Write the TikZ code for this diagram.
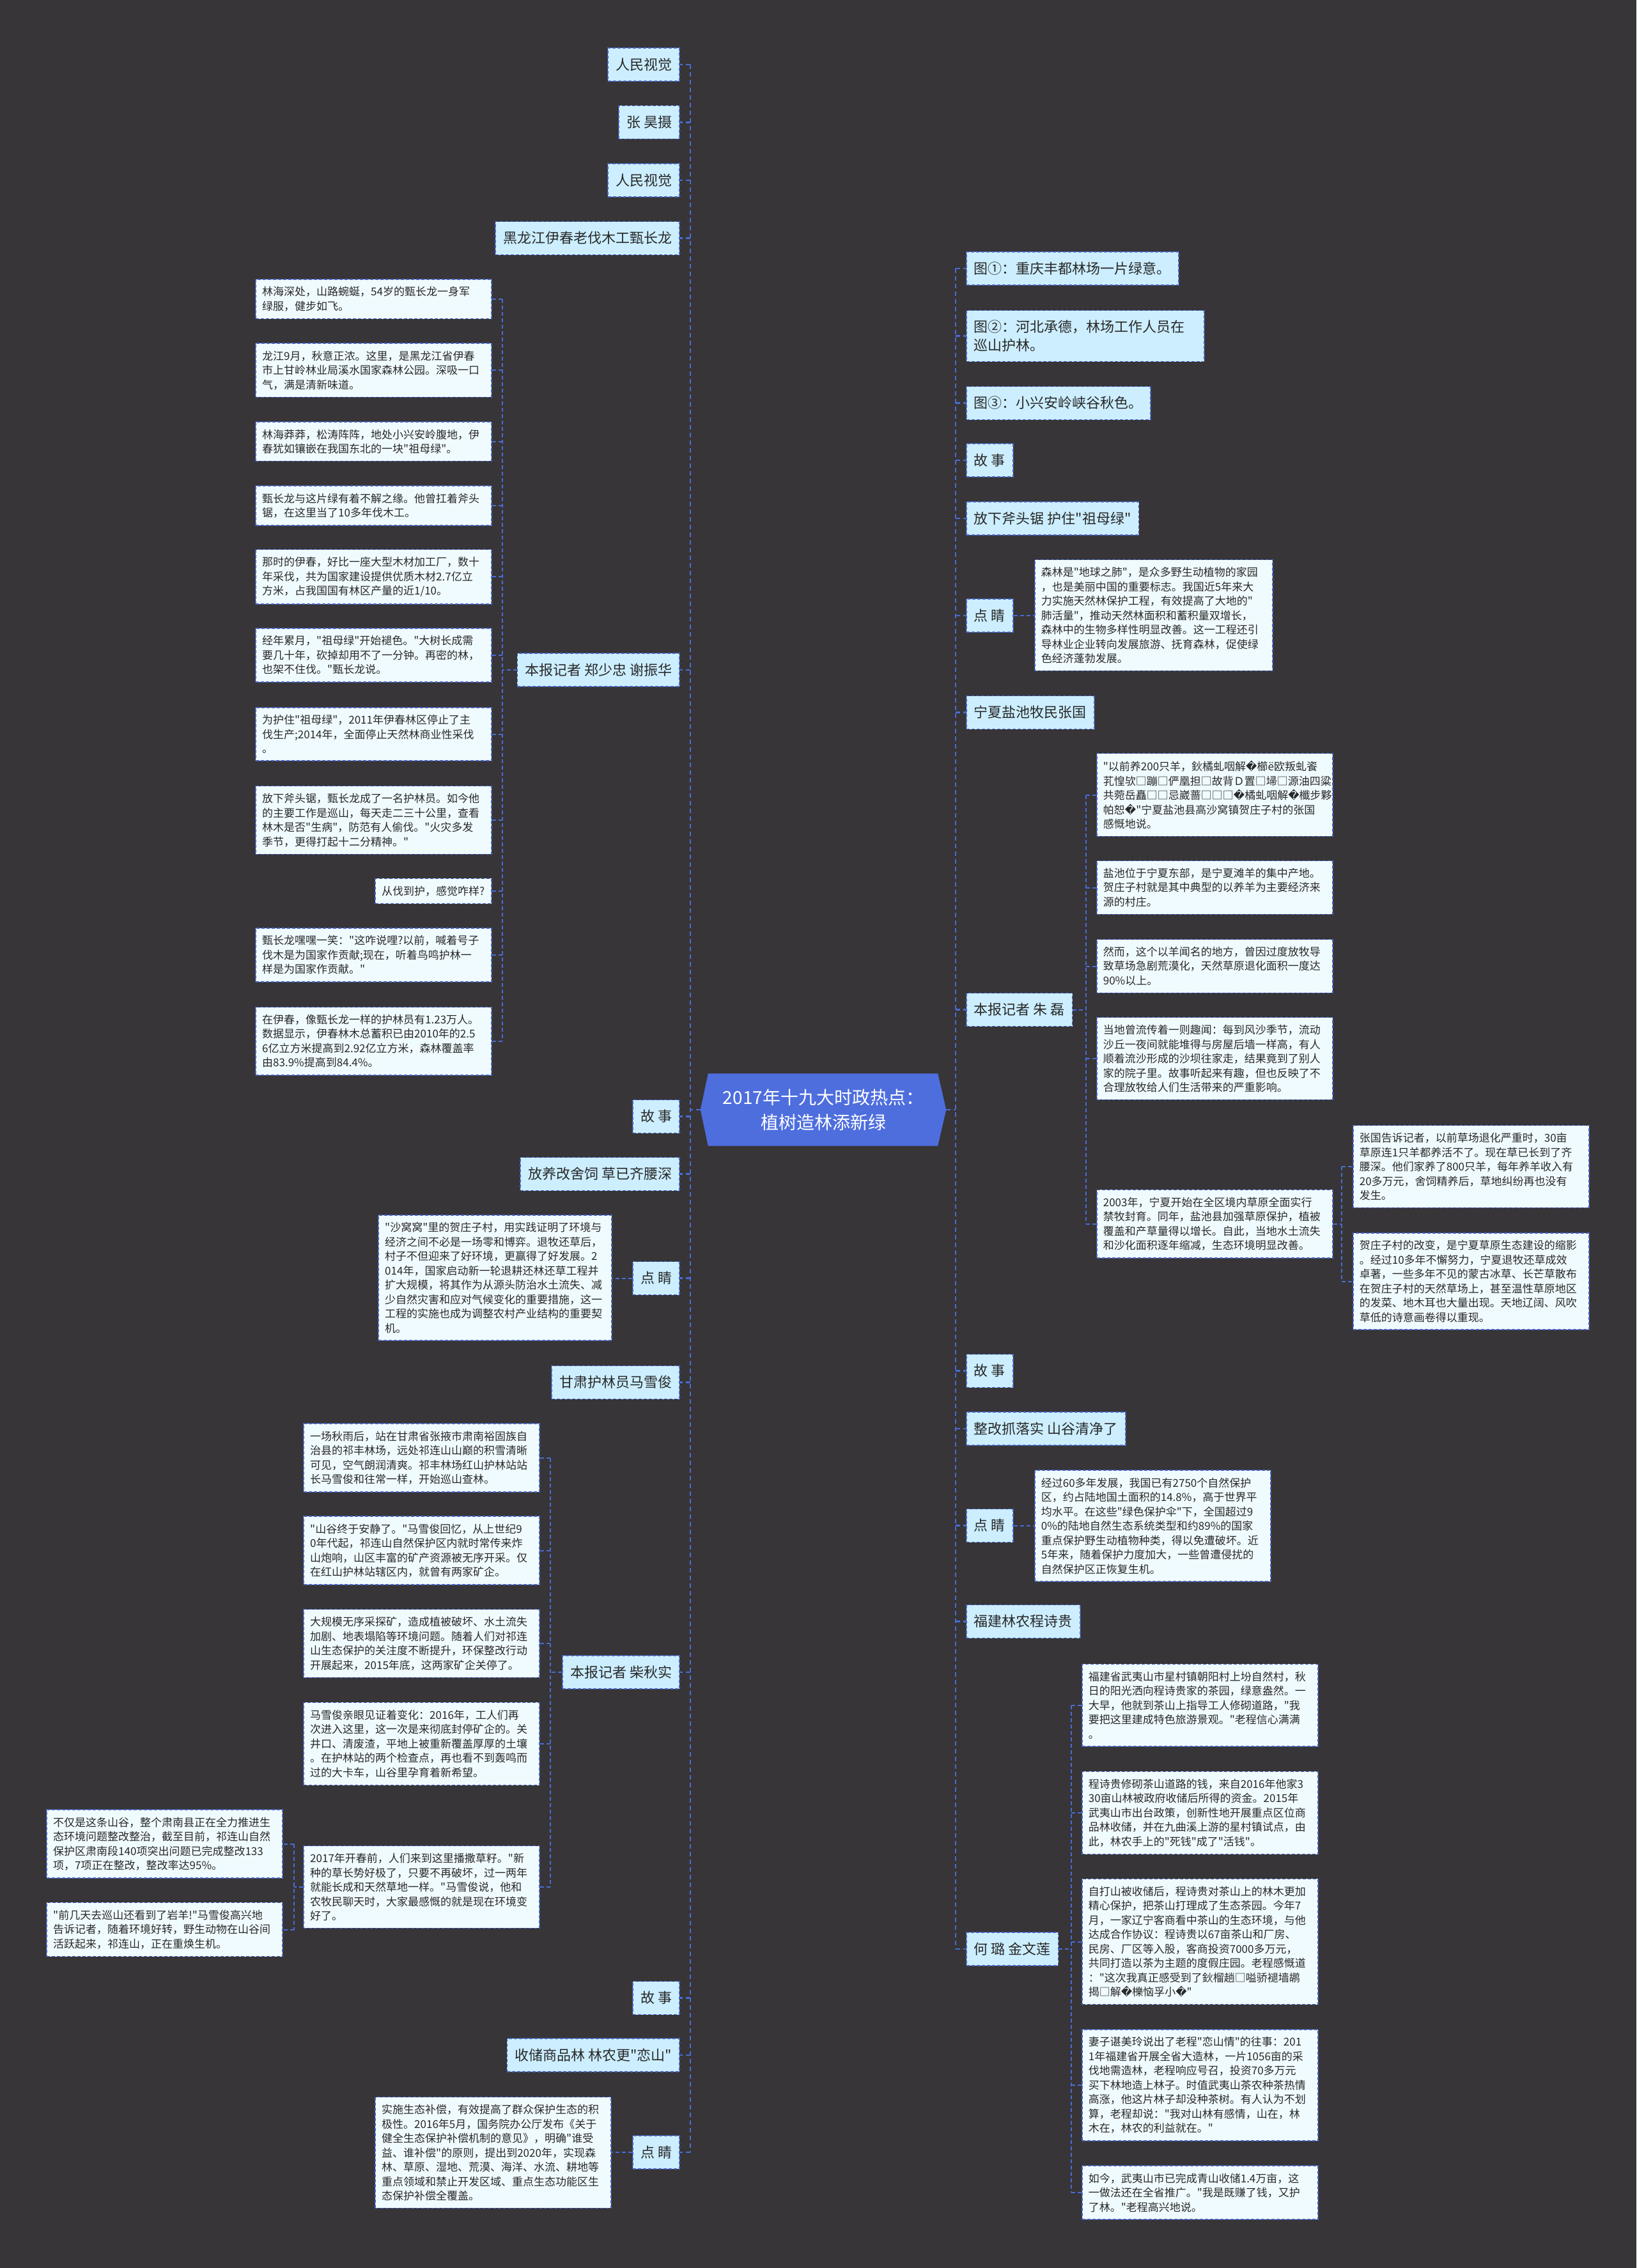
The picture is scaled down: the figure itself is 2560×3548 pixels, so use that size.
\documentclass[tikz,border=0pt]{standalone}
\usepackage{fontspec}
\setmainfont{Noto Sans CJK SC}[Ligatures=TeXOff]
\newfontfamily\dvsfont{DejaVu Sans}
\newcommand{\rpc}{{\dvsfont\symbol{"FFFD}}}
\usetikzlibrary{calc}
\pgfdeclarelayer{bgzero}
\pgfdeclarelayer{bgone}
\pgfsetlayers{bgzero,bgone,main}
\definecolor{bgc}{RGB}{55,53,55}
\definecolor{linec}{RGB}{72,108,214}
\definecolor{bordc}{RGB}{70,100,200}
\definecolor{mainfill}{RGB}{204,238,255}
\definecolor{leaffill}{RGB}{240,251,255}
\definecolor{txt}{RGB}{40,40,40}
\definecolor{rootc}{RGB}{78,110,222}
\newcommand{\mkL}[3]{\node[mainbox, anchor=east] (#1) at (1064,#2) {#3};}
\newcommand{\mkR}[3]{\node[mainbox, anchor=west] (#1) at (1511,#2) {#3};}
\newcommand{\leafE}[4]{\node[leafbox, anchor=east] (#1) at (#2,#3) {#4};}
\newcommand{\leafW}[4]{\node[leafbox, anchor=west] (#1) at (#2,#3) {#4};}
\begin{document}
\begin{tikzpicture}[x=1pt,y=-1pt,
  mainbox/.style={draw=bordc, dash pattern=on 5pt off 3pt, line width=1.6pt, fill=mainfill, text=txt,
    font=\fontsize{22}{29.5}\selectfont, inner xsep=12pt, inner ysep=0pt, minimum height=52pt, align=left},
  leafbox/.style={draw=bordc, dash pattern=on 5pt off 3pt, line width=1.6pt, fill=leaffill, text=txt,
    font=\fontsize{17}{22.5}\selectfont, inner xsep=10pt, inner ysep=11.5pt, text width=349pt, align=left},
  spine/.style={draw=linec, line width=2.6pt, dash pattern=on 7pt off 5pt},
  twig/.style={draw=linec, line width=2pt, dash pattern=on 6pt off 4pt}]
\begin{pgfonlayer}{bgzero}
\fill[bgc] (0,0) rectangle (2560,3548);
\end{pgfonlayer}

% root
\node[minimum width=384pt, minimum height=113pt, inner sep=0pt, text=white,
  font=\fontsize{28}{39}\selectfont, align=center] (root) at (1288,1736) {2017年十九大时政热点：\\植树造林添新绿};

% left main nodes
\mkL{L1}{101}{人民视觉}
\mkL{L2}{191.5}{张 昊摄}
\mkL{L3}{282}{人民视觉}
\mkL{L4}{372.6}{黑龙江伊春老伐木工甄长龙}
\mkL{L5}{1048}{本报记者 郑少忠 谢振华}
\mkL{L6}{1746.5}{故 事}
\mkL{L7}{1836.5}{放养改舍饲 草已齐腰深}
\mkL{L8}{1999.5}{点 睛}
\mkL{L9}{2162.5}{甘肃护林员马雪俊}
\mkL{L10}{2616}{本报记者 柴秋实}
\mkL{L11}{3125.5}{故 事}
\mkL{L12}{3215}{收储商品林 林农更"恋山"}
\mkL{L13}{3367}{点 睛}

% right main nodes
\mkR{R1}{420}{图①：重庆丰都林场一片绿意。}
\node[mainbox, anchor=west, text width=348pt, inner ysep=15pt] (R2) at (1511,525.6) {图②：河北承德，林场工作人员在\\巡山护林。};
\mkR{R3}{630.5}{图③：小兴安岭峡谷秋色。}
\mkR{R4}{720}{故 事}
\mkR{R5}{811}{放下斧头锯 护住"祖母绿"}
\mkR{R6}{963}{点 睛}
\mkR{R7}{1114.5}{宁夏盐池牧民张国}
\mkR{R8}{1579.5}{本报记者 朱 磊}
\mkR{R9}{2144.5}{故 事}
\mkR{R10}{2235}{整改抓落实 山谷清净了}
\mkR{R11}{2386.5}{点 睛}
\mkR{R12}{2536.5}{福建林农程诗贵}
\mkR{R13}{3049}{何 璐 金文莲}

% leaves of L5
\leafE{a1}{770}{467.8}{林海深处，山路蜿蜒，54岁的甄长龙一身军\\绿服，健步如飞。}
\leafE{a2}{770}{579.2}{龙江9月，秋意正浓。这里，是黑龙江省伊春\\市上甘岭林业局溪水国家森林公园。深吸一口\\气，满是清新味道。}
\leafE{a3}{770}{690.8}{林海莽莽，松涛阵阵，地处小兴安岭腹地，伊\\春犹如镶嵌在我国东北的一块"祖母绿"。}
\leafE{a4}{770}{791.1}{甄长龙与这片绿有着不解之缘。他曾扛着斧头\\锯，在这里当了10多年伐木工。}
\leafE{a5}{770}{902.4}{那时的伊春，好比一座大型木材加工厂，数十\\年采伐，共为国家建设提供优质木材2.7亿立\\方米，占我国国有林区产量的近1/10。}
\leafE{a6}{770}{1025}{经年累月，"祖母绿"开始褪色。"大树长成需\\要几十年，砍掉却用不了一分钟。再密的林，\\也架不住伐。"甄长龙说。}
\leafE{a7}{770}{1148.5}{为护住"祖母绿"，2011年伊春林区停止了主\\伐生产;2014年，全面停止天然林商业性采伐\\。}
\leafE{a8}{770}{1283}{放下斧头锯，甄长龙成了一名护林员。如今他\\的主要工作是巡山，每天走二三十公里，查看\\林木是否"生病"，防范有人偷伐。"火灾多发\\季节，更得打起十二分精神。"}
\node[leafbox, anchor=east, text width=162pt] (a9) at (770,1394) {从伐到护，感觉咋样?};
\leafE{a10}{770}{1494}{甄长龙嘿嘿一笑："这咋说哩?以前，喊着号子\\伐木是为国家作贡献;现在，听着鸟鸣护林一\\样是为国家作贡献。"}
\leafE{a11}{770}{1628.7}{在伊春，像甄长龙一样的护林员有1.23万人。\\数据显示，伊春林木总蓄积已由2010年的2.5\\6亿立方米提高到2.92亿立方米，森林覆盖率\\由83.9\%提高到84.4\%。}

% leaf of L8
\node[leafbox, anchor=east, text width=345pt] (b1) at (958,1999) {"沙窝窝"里的贺庄子村，用实践证明了环境与\\经济之间不必是一场零和博弈。退牧还草后，\\村子不但迎来了好环境，更赢得了好发展。2\\014年，国家启动新一轮退耕还林还草工程并\\扩大规模，将其作为从源头防治水土流失、减\\少自然灾害和应对气候变化的重要措施，这一\\工程的实施也成为调整农村产业结构的重要契\\机。};

% leaves of L10
\leafE{g1}{845}{2280.5}{一场秋雨后，站在甘肃省张掖市肃南裕固族自\\治县的祁丰林场，远处祁连山山巅的积雪清晰\\可见，空气朗润清爽。祁丰林场红山护林站站\\长马雪俊和往常一样，开始巡山查林。}
\leafE{g2}{845}{2425.5}{"山谷终于安静了。"马雪俊回忆，从上世纪9\\0年代起，祁连山自然保护区内就时常传来炸\\山炮响，山区丰富的矿产资源被无序开采。仅\\在红山护林站辖区内，就曾有两家矿企。}
\leafE{g3}{845}{2571}{大规模无序采探矿，造成植被破坏、水土流失\\加剧、地表塌陷等环境问题。随着人们对祁连\\山生态保护的关注度不断提升，环保整改行动\\开展起来，2015年底，这两家矿企关停了。}
\leafE{g4}{845}{2728}{马雪俊亲眼见证着变化：2016年，工人们再\\次进入这里，这一次是来彻底封停矿企的。关\\井口、清废渣，平地上被重新覆盖厚厚的土壤\\。在护林站的两个检查点，再也看不到轰鸣而\\过的大卡车，山谷里孕育着新希望。}
\leafE{g5}{845}{2952}{2017年开春前，人们来到这里播撒草籽。"新\\种的草长势好极了，只要不再破坏，过一两年\\就能长成和天然草地一样。"马雪俊说，他和\\农牧民聊天时，大家最感慨的就是现在环境变\\好了。}
\leafE{g6}{443}{2884.5}{不仅是这条山谷，整个肃南县正在全力推进生\\态环境问题整改整治，截至目前，祁连山自然\\保护区肃南段140项突出问题已完成整改133\\项，7项正在整改，整改率达95\%。}
\leafE{g7}{443}{3018.5}{"前几天去巡山还看到了岩羊!"马雪俊高兴地\\告诉记者，随着环境好转，野生动物在山谷间\\活跃起来，祁连山，正在重焕生机。}

% leaf of L13
\leafE{b2}{957}{3367.5}{实施生态补偿，有效提高了群众保护生态的积\\极性。2016年5月，国务院办公厅发布《关于\\健全生态保护补偿机制的意见》，明确"谁受\\益、谁补偿"的原则，提出到2020年，实现森\\林、草原、湿地、荒漠、海洋、水流、耕地等\\重点领域和禁止开发区域、重点生态功能区生\\态保护补偿全覆盖。}

% leaf of R6
\node[leafbox, anchor=west, text width=352pt] (c1) at (1618,962.5) {森林是"地球之肺"，是众多野生动植物的家园\\，也是美丽中国的重要标志。我国近5年来大\\力实施天然林保护工程，有效提高了大地的"\\肺活量"，推动天然林面积和蓄积量双增长，\\森林中的生物多样性明显改善。这一工程还引\\导林业企业转向发展旅游、抚育森林，促使绿\\色经济蓬勃发展。};

% leaves of R8
\leafW{z1}{1715}{1243.5}{"以前养200只羊，鈥橘虬咽解\rpc 櫛ë欧叛虬餈\\芤惶欤□蹦□俨凰担□故背Ｄ置□埽□源油四粱\\共菀岳矗□□忌崴蔷□□□\rpc 橘虬咽解\rpc 櫼步夥\\帕恕\rpc "宁夏盐池县高沙窝镇贺庄子村的张国\\感慨地说。}
\leafW{z2}{1715}{1388.5}{盐池位于宁夏东部，是宁夏滩羊的集中产地。\\贺庄子村就是其中典型的以养羊为主要经济来\\源的村庄。}
\leafW{z3}{1715}{1511.5}{然而，这个以羊闻名的地方，曾因过度放牧导\\致草场急剧荒漠化，天然草原退化面积一度达\\90\%以上。}
\leafW{z4}{1715}{1656}{当地曾流传着一则趣闻：每到风沙季节，流动\\沙丘一夜间就能堆得与房屋后墙一样高，有人\\顺着流沙形成的沙坝往家走，结果竟到了别人\\家的院子里。故事听起来有趣，但也反映了不\\合理放牧给人们生活带来的严重影响。}
\leafW{z5}{1715}{1914.7}{2003年，宁夏开始在全区境内草原全面实行\\禁牧封育。同年，盐池县加强草原保护，植被\\覆盖和产草量得以增长。自此，当地水土流失\\和沙化面积逐年缩减，生态环境明显改善。}

% leaves of z5
\leafW{y1}{2116}{1825}{张国告诉记者，以前草场退化严重时，30亩\\草原连1只羊都养活不了。现在草已长到了齐\\腰深。他们家养了800只羊，每年养羊收入有\\20多万元，舍饲精养后，草地纠纷再也没有\\发生。}
\leafW{y2}{2116}{2004.5}{贺庄子村的改变，是宁夏草原生态建设的缩影\\。经过10多年不懈努力，宁夏退牧还草成效\\卓著，一些多年不见的蒙古冰草、长芒草散布\\在贺庄子村的天然草场上，甚至温性草原地区\\的发菜、地木耳也大量出现。天地辽阔、风吹\\草低的诗意画卷得以重现。}

% leaf of R11
\leafW{c2}{1618}{2387}{经过60多年发展，我国已有2750个自然保护\\区，约占陆地国土面积的14.8\%，高于世界平\\均水平。在这些"绿色保护伞"下，全国超过9\\0\%的陆地自然生态系统类型和约89\%的国家\\重点保护野生动植物种类，得以免遭破坏。近\\5年来，随着保护力度加大，一些曾遭侵扰的\\自然保护区正恢复生机。}

% leaves of R13
\leafW{f1}{1692}{2667.5}{福建省武夷山市星村镇朝阳村上坋自然村，秋\\日的阳光洒向程诗贵家的茶园，绿意盎然。一\\大早，他就到茶山上指导工人修砌道路，"我\\要把这里建成特色旅游景观。"老程信心满满\\。}
\leafW{f2}{1692}{2836}{程诗贵修砌茶山道路的钱，来自2016年他家3\\30亩山林被政府收储后所得的资金。2015年\\武夷山市出台政策，创新性地开展重点区位商\\品林收储，并在九曲溪上游的星村镇试点，由\\此，林农手上的"死钱"成了"活钱"。}
\leafW{f3}{1692}{3037.5}{自打山被收储后，程诗贵对茶山上的林木更加\\精心保护，把茶山打理成了生态茶园。今年7\\月，一家辽宁客商看中茶山的生态环境，与他\\达成合作协议：程诗贵以67亩茶山和厂房、\\民房、厂区等入股，客商投资7000多万元，\\共同打造以茶为主题的度假庄园。老程感慨道\\："这次我真正感受到了鈥榴趟□嗌骄褪墙鹕\\揭□解\rpc 櫟恼孚小\rpc "}
\leafW{f4}{1692}{3262}{妻子谌美玲说出了老程"恋山情"的往事：201\\1年福建省开展全省大造林，一片1056亩的采\\伐地需造林，老程响应号召，投资70多万元\\买下林地造上林子。时值武夷山茶农种茶热情\\高涨，他这片林子却没种茶树。有人认为不划\\算，老程却说："我对山林有感情，山在，林\\木在，林农的利益就在。"}
\leafW{f5}{1692}{3430}{如今，武夷山市已完成青山收储1.4万亩，这\\一做法还在全省推广。"我是既赚了钱，又护\\了林。"老程高兴地说。}

\begin{pgfonlayer}{bgone}
% root shape
\fill[rootc] (root.west) -- ($(root.north west)+(12,0)$) -- ($(root.north east)+(-13,0)$) -- (root.east)
  -- ($(root.south east)+(-13,0)$) -- ($(root.south west)+(12,0)$) -- cycle;
% left spine
\coordinate (LS) at (1080,1736);
\draw[spine] (root.west) -- (LS);
\draw[spine] (LS |- L1.east) -- (LS |- L13.east);
\foreach \n in {L1,L2,L3,L4,L5,L6,L7,L8,L9,L10,L11,L12,L13}
  \draw[spine] (LS |- \n.east) -- (\n.east);
% right spine
\coordinate (RS) at (1495,1736);
\draw[spine] (root.east) -- (RS);
\draw[spine] (RS |- R1.west) -- (RS |- R13.west);
\foreach \n in {R1,R2,R3,R4,R5,R6,R7,R8,R9,R10,R11,R12,R13}
  \draw[spine] (RS |- \n.west) -- (\n.west);
% L5 subtree
\coordinate (S5) at (786,0);
\draw[twig] (L5.west) -- (S5 |- L5.west);
\draw[twig] (S5 |- a1.east) -- (S5 |- a11.east);
\foreach \n in {a1,a2,a3,a4,a5,a6,a7,a8,a9,a10,a11}
  \draw[twig] (S5 |- \n.east) -- (\n.east);
% L8 and L13
\draw[twig] (L8.west) -- (L8.west -| b1.east);
\draw[twig] (L13.west) -- (L13.west -| b2.east);
% L10 subtree
\coordinate (S10) at (861,0);
\draw[twig] (L10.west) -- (S10 |- L10.west);
\draw[twig] (S10 |- g1.east) -- (S10 |- g5.east);
\foreach \n in {g1,g2,g3,g4,g5}
  \draw[twig] (S10 |- \n.east) -- (\n.east);
\coordinate (SG) at (460,0);
\draw[twig] (g5.west) -- (SG |- g5.west);
\draw[twig] (SG |- g6.east) -- (SG |- g7.east);
\foreach \n in {g6,g7}
  \draw[twig] (SG |- \n.east) -- (\n.east);
% R6 and R11
\draw[twig] (R6.east) -- (R6.east -| c1.west);
\draw[twig] (R11.east) -- (R11.east -| c2.west);
% R8 subtree
\coordinate (S8) at (1699,0);
\draw[twig] (R8.east) -- (S8 |- R8.east);
\draw[twig] (S8 |- z1.west) -- (S8 |- z5.west);
\foreach \n in {z1,z2,z3,z4,z5}
  \draw[twig] (S8 |- \n.west) -- (\n.west);
\coordinate (SZ) at (2099,0);
\draw[twig] (z5.east) -- (SZ |- z5.east);
\draw[twig] (SZ |- y1.west) -- (SZ |- y2.west);
\foreach \n in {y1,y2}
  \draw[twig] (SZ |- \n.west) -- (\n.west);
% R13 subtree
\coordinate (S13) at (1676,0);
\draw[twig] (R13.east) -- (S13 |- R13.east);
\draw[twig] (S13 |- f1.west) -- (S13 |- f5.west);
\foreach \n in {f1,f2,f3,f4,f5}
  \draw[twig] (S13 |- \n.west) -- (\n.west);
\end{pgfonlayer}
\end{tikzpicture}
\end{document}
